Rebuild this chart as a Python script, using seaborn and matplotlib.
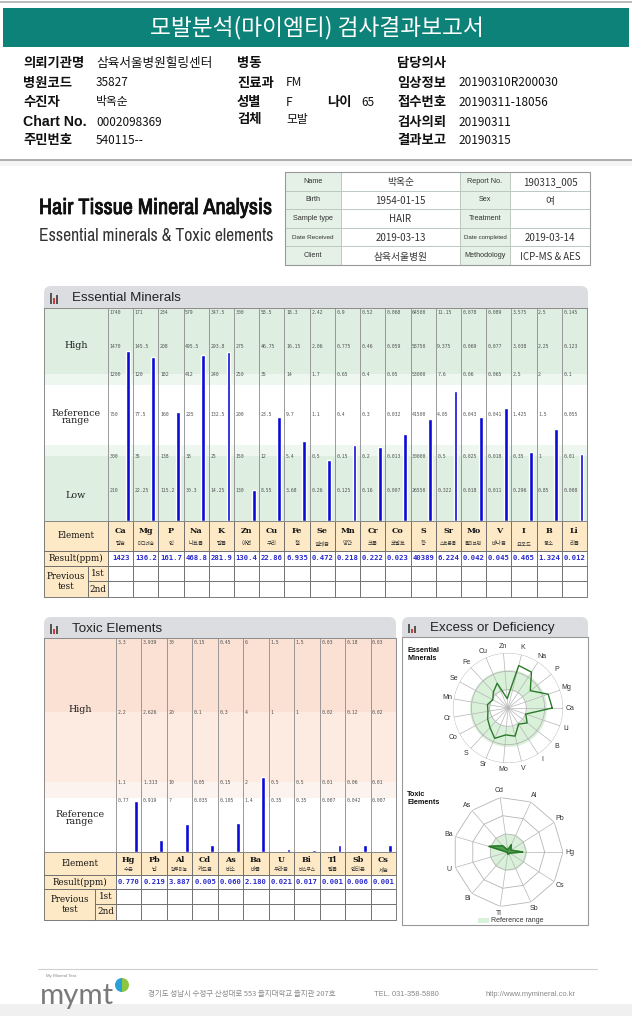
import numpy as np
import matplotlib
matplotlib.use('Agg')
import matplotlib.pyplot as plt
import matplotlib.font_manager as fm
import matplotlib.patheffects as pe
from matplotlib.patches import Rectangle, FancyBboxPatch, Wedge
import seaborn as sns

# ---------------- data ----------------
ess_elements = ['Ca', 'Mg', 'P', 'Na', 'K', 'Zn', 'Cu', 'Fe', 'Se', 'Mn', 'Cr', 'Co', 'S', 'Sr', 'Mo', 'V', 'I', 'B', 'Li']
ess_korean = ['칼슘', '마그네슘', '인', '나트륨', '칼륨', '아연', '구리', '철', '셀레늄', '망간', '크롬', '코발트',
              '황', '스트론튬', '몰리브덴', '바나듐', '요오드', '붕소', '리튬']
ess_result = [1423, 136.2, 161.7, 468.8, 281.9, 130.4, 22.86, 6.935, 0.472, 0.218, 0.222, 0.023,
              40389, 6.224, 0.042, 0.045, 0.465, 1.324, 0.012]
ess_high_top = [1740, 171, 234, 579, 347.5, 300, 58.5, 18.3, 2.42, 0.9, 0.52, 0.068, 64500, 11.15, 0.078, 0.089, 3.575, 2.5, 0.145]
ess_high_mid = [1470, 145.5, 208, 495.5, 293.8, 275, 46.75, 16.15, 2.06, 0.775, 0.46, 0.059, 58750, 9.375, 0.069, 0.077, 3.038, 2.25, 0.123]
ess_ref_top = [1200, 120, 182, 412, 240, 250, 35, 14, 1.7, 0.65, 0.4, 0.05, 53000, 7.6, 0.06, 0.065, 2.5, 2, 0.1]
ess_ref_mid = [750, 77.5, 160, 225, 132.5, 200, 23.5, 9.7, 1.1, 0.4, 0.3, 0.032, 41500, 4.05, 0.043, 0.041, 1.425, 1.5, 0.055]
ess_low_top = [300, 35, 138, 38, 25, 150, 12, 5.4, 0.5, 0.15, 0.2, 0.013, 30000, 0.5, 0.025, 0.018, 0.35, 1, 0.01]
ess_low_bottom = [210, 22.25, 115.2, 30.3, 14.25, 130, 8.55, 3.68, 0.26, 0.125, 0.16, 0.007, 26550, 0.322, 0.018, 0.011, 0.296, 0.85, 0.008]

tox_elements = ['Hg', 'Pb', 'Al', 'Cd', 'As', 'Ba', 'U', 'Bi', 'Tl', 'Sb', 'Cs']
tox_korean = ['수은', '납', '알루미늄', '카드뮴', '비소', '바륨', '우라늄', '비스무스', '탈륨', '안티몬', '세슘']
tox_result = [0.770, 0.219, 3.887, 0.005, 0.060, 2.180, 0.021, 0.017, 0.001, 0.006, 0.001]
tox_high_top = [3.3, 3.939, 30, 0.15, 0.45, 6, 1.5, 1.5, 0.03, 0.18, 0.03]
tox_high_mid = [2.2, 2.626, 20, 0.1, 0.3, 4, 1, 1, 0.02, 0.12, 0.02]
tox_high_low = [1.1, 1.313, 10, 0.05, 0.15, 2, 0.5, 0.5, 0.01, 0.06, 0.01]
tox_ref_top = [0.77, 0.919, 7, 0.035, 0.105, 1.4, 0.35, 0.35, 0.007, 0.042, 0.007]

info_labels_1 = ['의뢰기관명', '병원코드', '수진자', 'Chart No.', '주민번호']
info_values_1 = ['삼육서울병원힐링센터', '35827', '박옥순', '0002098369', '540115--']
info_labels_2 = ['병동', '진료과', '성별', '검체']
info_values_2 = ['', 'FM', 'F', '모발']
info_age = '65'
info_labels_3 = ['담당의사', '임상정보', '접수번호', '검사의뢰', '결과보고']
info_values_3 = ['', '20190310R200030', '20190311-18056', '20190311', '20190315']

card_labels_left = ['Name', 'Birth', 'Sample type', 'Date Received', 'Client']
card_values_left = ['박옥순', '1954-01-15', 'HAIR', '2019-03-13', '삼육서울병원']
card_labels_right = ['Report No.', 'Sex', 'Treatment', 'Date completed', 'Methodology']
card_values_right = ['190313_005', '여', '', '2019-03-14', 'ICP-MS & AES']

# ---------------- setup ----------------
sns.set_theme(style='white')
plt.rcParams['font.family'] = ['Noto Sans CJK KR', 'DejaVu Sans']
names = {f.name for f in fm.fontManager.ttflist}
narrow_found = sorted(n for n in names if 'Narrow' in n or 'Condensed' in n)
if 'Liberation Sans Narrow' in names:
    narrow = 'Liberation Sans Narrow'
else:
    narrow = narrow_found[0] if narrow_found else 'Liberation Sans'

W, H = 632, 1016
fig = plt.figure(figsize=(W / 100, H / 100), dpi=100)
renderer = fig.canvas.get_renderer()
page = fig.add_axes([0, 0, 1, 1])
page.set_xlim(0, W)
page.set_ylim(H, 0)
page.axis('off')

KR = ['Noto Sans CJK KR', 'DejaVu Sans']
SERIF = ['DejaVu Serif', 'Noto Sans CJK KR']
MONO = ['DejaVu Sans Mono']
ARIAL = ['Liberation Sans', 'DejaVu Sans']


def px_axes(x0, y0, x1, y1, **kw):
    return fig.add_axes([x0 / W, 1 - y1 / H, (x1 - x0) / W, (y1 - y0) / H], **kw)


def rect(x0, y0, x1, y1, fc='none', ec='none', lw=0.6, z=1):
    page.add_patch(Rectangle((x0, y0), x1 - x0, y1 - y0, facecolor=fc, edgecolor=ec, lw=lw, zorder=z))


def txt(x, y, s, size=8, ha='left', va='center', color='#111', weight='normal', family=KR, z=5, fit=None):
    t = page.text(x, y, s, fontsize=size, ha=ha, va=va, color=color, fontweight=weight, family=family, zorder=z)
    if fit:
        w = t.get_window_extent(renderer).width
        t.set_fontsize(size * fit / w)
    return t


# ---------------- report header ----------------
page.plot([0, W], [2, 2], color='#b0b0b0', lw=1.2)
rect(3, 8, 629, 47, fc='#0d8279')
txt(317, 28, '모발분석(마이엠티) 검사결과보고서', size=15, ha='center', color='white', fit=333)

rows_y = [63, 83, 102, 122, 140]
for y, lab, val in zip(rows_y, info_labels_1, info_values_1):
    latin = lab.startswith('Chart')
    txt(23, y, lab, size=9.6 if not latin else 10.2, weight='bold',
        family=['Liberation Sans', 'Noto Sans CJK KR'] if latin else KR)
    txt(96, y, val, size=8.5, fit=117 if y == rows_y[0] else None)
for y, lab, val in zip(rows_y[:4], info_labels_2, info_values_2):
    dy = 3 if lab == '검체' else 0
    txt(237, y - dy, lab, size=9.6, weight='bold')
    txt(286, y - dy, val, size=8.5)
txt(327, rows_y[2], '나이', size=9.6, weight='bold')
txt(361, rows_y[2], info_age, size=8.5)
for y, lab, val in zip(rows_y, info_labels_3, info_values_3):
    txt(397, y, lab, size=9.6, weight='bold')
    txt(458, y, val, size=8.5)

page.plot([0, W], [160, 160], color='#a0a0a0', lw=1.2)
rect(0, 161, W, 166, fc='#f4f4f4')

# ---------------- hair tissue title & card ----------------
title = txt(39, 208, 'Hair Tissue Mineral Analysis', size=16, weight='bold', family=[narrow, 'DejaVu Sans'],
            color='#111', fit=234)
title.set_path_effects([pe.withStroke(linewidth=0.6, foreground='#111')])
txt(39, 236, 'Essential minerals & Toxic elements', size=12, family=[narrow, 'DejaVu Sans'],
    color='#333', fit=234)

cx = [285, 341, 460, 510, 590]
cy = np.linspace(172, 265, 6)
for r in range(5):
    for c in range(4):
        fc = '#e5f1e7' if c in (0, 2) else 'white'
        rect(cx[c], cy[r], cx[c + 1], cy[r + 1], fc=fc, ec='#b8c4bc', lw=0.6)
    ym = (cy[r] + cy[r + 1]) / 2
    txt((cx[0] + cx[1]) / 2, ym, card_labels_left[r], size=5.2 if r != 3 else 4.6, ha='center', family=ARIAL, color='#333')
    txt((cx[1] + cx[2]) / 2, ym + 1, card_values_left[r], size=7, ha='center', color='#333')
    txt((cx[2] + cx[3]) / 2, ym, card_labels_right[r], size=5.2 if r != 3 else 4.4, ha='center', family=ARIAL, color='#333')
    txt((cx[3] + cx[4]) / 2, ym + 1, card_values_right[r], size=7, ha='center', color='#333')
rect(cx[0], cy[0], cx[-1], cy[-1], ec='#999', lw=0.8)


# ---------------- panel headers ----------------
def panel_header(x0, y0, x1, y1, title):
    page.add_patch(FancyBboxPatch((x0, y0), x1 - x0, y1 - y0, boxstyle='round,pad=0,rounding_size=7',
                                  facecolor='#dcdde1', edgecolor='none', zorder=1))
    rect(x0, (y0 + y1) / 2, x1, y1, fc='#dcdde1', z=1)
    ix = x0 + 6
    rect(ix, y0 + 7, ix + 1.6, y1 - 4, fc='#555', z=2)
    rect(ix + 3, y0 + 12, ix + 4.6, y1 - 4, fc='#d23a3a', z=2)
    rect(ix + 6, y0 + 9, ix + 7.6, y1 - 4, fc='#555', z=2)
    txt(x0 + 28, (y0 + y1) / 2 + 1, title, size=9.6, family=ARIAL, color='#222')


panel_header(44, 286, 588, 308, 'Essential Minerals')
panel_header(44, 617, 396, 638, 'Toxic Elements')
panel_header(402, 617, 588, 637, 'Excess or Deficiency')
rect(402, 637, 588, 925, fc='white', ec='#999', lw=0.8)


# ---------------- bar chart helper ----------------
def range_chart(box, label_w, elements, results, label_rows, label_levels, bands, side_labels):
    x0, y0, x1, y1 = box
    n = len(elements)
    cw = (x1 - x0 - label_w) / n
    off = 0.78
    ax = px_axes(x0, y0, x1, y1)
    thr = np.array(label_rows, dtype=float)[::-1]   # ascending per column
    lev = np.array(label_levels)[::-1]
    levels = [np.interp(v, np.r_[0, thr[:, i]], np.r_[0, lev]) for i, v in enumerate(results)]
    sns.barplot(x=elements, y=levels, ax=ax, color='#0a0ad6', saturation=1, width=0.15, zorder=3)
    left = -off - label_w / cw
    ax.set_xlim(left, n - off)
    ax.set_ylim(0, y1 - y0)
    for lo, hi, c in bands:
        ax.axhspan(lo, hi, color=c, lw=0, zorder=0)
    for i in range(n + 1):
        ax.axvline(i - off, color='#8a8a8a', lw=0.6, zorder=1)
    for i in range(n):
        for vals, lv in zip(label_rows, label_levels):
            ax.text(i - off + 0.06, lv, f'{vals[i]:g}', fontsize=3.5, va='center', ha='left',
                    family=MONO, color='#555', zorder=2)
    for s, lv in side_labels:
        ax.text(left + label_w / cw / 2, lv, s, fontsize=6.8, ha='center', va='center',
                family=SERIF, color='#222', linespacing=0.85)
    ax.set_xticks([])
    ax.set_yticks([])
    ax.set_xlabel('')
    ax.set_ylabel('')
    for sp in ax.spines.values():
        sp.set_color('#8a8a8a')
        sp.set_linewidth(0.7)
    return cw


def result_table(x0, label_w, sub_x, rows, elements, korean, texts, cw):
    yt, yk, yr, y1, y2 = rows
    beige = '#fde9c6'
    ec = '#666'
    rect(x0, yt, x0 + label_w, yk, fc=beige, ec=ec)
    txt(x0 + label_w / 2, (yt + yk) / 2, 'Element', size=6.3, ha='center', family=SERIF)
    rect(x0, yk, x0 + label_w, yr, fc=beige, ec=ec)
    txt(x0 + label_w / 2, (yk + yr) / 2, 'Result(ppm)', size=6.3, ha='center', family=SERIF)
    rect(x0, yr, sub_x, y2, fc=beige, ec=ec)
    txt((x0 + sub_x) / 2, (yr + y2) / 2, 'Previous\ntest', size=6.3, ha='center', family=SERIF)
    rect(sub_x, yr, x0 + label_w, y1, fc=beige, ec=ec)
    rect(sub_x, y1, x0 + label_w, y2, fc=beige, ec=ec)
    txt((sub_x + x0 + label_w) / 2, (yr + y1) / 2, '1st', size=6.3, ha='center', family=SERIF)
    txt((sub_x + x0 + label_w) / 2, (y1 + y2) / 2, '2nd', size=6.3, ha='center', family=SERIF)
    for i, (el, kr, tv) in enumerate(zip(elements, korean, texts)):
        a = x0 + label_w + i * cw
        b = a + cw
        rect(a, yt, b, yk, fc=beige, ec=ec)
        txt((a + b) / 2, yt + (yk - yt) * 0.33, el, size=5.8, ha='center', family=SERIF, weight='bold')
        txt((a + b) / 2, yt + (yk - yt) * 0.75, kr, size=3.9 if len(kr) < 4 else 3.3, ha='center', color='#333')
        rect(a, yk, b, yr, fc='white', ec=ec)
        txt((a + b) / 2, (yk + yr) / 2, tv, size=5.2, ha='center', family=MONO, color='#2a2ad0', weight='bold')
        rect(a, yr, b, y1, fc='white', ec=ec)
        rect(a, y1, b, y2, fc='white', ec=ec)


# ---------------- essential minerals ----------------
green, pale = '#deefe2', '#edf6ef'
ess_rows = [ess_high_top, ess_high_mid, ess_ref_top, ess_ref_mid, ess_low_top, ess_low_bottom]
cw_e = range_chart((44, 308, 587, 521), 64, ess_elements, ess_result, ess_rows,
                   [208, 175, 146, 106, 65, 30],
                   [(0, 65, green), (65, 76, pale), (76, 136, 'white'), (136, 147, pale), (147, 213, green)],
                   [('High', 176), ('Reference\nrange', 104), ('Low', 25)])
result_table(44, 64, 88, [521, 551, 566, 581, 597], ess_elements, ess_korean,
             [f'{v:g}' for v in ess_result], cw_e)

# ---------------- toxic elements ----------------
tox_rows = [tox_high_top, tox_high_mid, tox_high_low, tox_ref_top]
cw_t = range_chart((44, 638, 396, 852), 72, tox_elements, tox_result, tox_rows,
                   [209, 140, 69, 51],
                   [(0, 54, 'white'), (54, 70, '#fdf3ee'), (70, 140, '#fdeae1'), (140, 214, '#fbe1d4')],
                   [('High', 142), ('Reference\nrange', 34)])
result_table(44, 72, 95, [852, 875, 889, 904, 920], tox_elements, tox_korean,
             [f'{v:.3f}' for v in tox_result], cw_t)


# ---------------- radar charts ----------------
def radar(center, elements, level_vals, grid_poly, band, fill_poly):
    cxp, cyp = center
    R = 55
    ax = px_axes(cxp - R, cyp - R, cxp + R, cyp + R, projection='polar')
    ax.set_facecolor('none')
    n = len(elements)
    th = np.arange(n) * 2 * np.pi / n
    dense = np.linspace(0, 2 * np.pi, 240)
    ax.fill_between(dense, band[0], band[1], color='#d9f0d9', lw=0, zorder=0)
    for r in (1, 2, 3):
        if grid_poly:
            ax.plot(np.r_[th, th[0]], np.full(n + 1, r), color='#b5b5b5', lw=0.6, zorder=1)
        else:
            ax.plot(dense, np.full(dense.size, r), color='#b5b5b5', lw=0.6, zorder=1)
    for t in th:
        ax.plot([t, t], [0, 3], color='#b5b5b5', lw=0.5, zorder=1)
    lv = np.r_[level_vals, level_vals[0]]
    tt = np.r_[th, th[0]]
    if fill_poly:
        ax.fill(tt, lv, color='#3c8f3c', alpha=0.85, zorder=3)
    ax.plot(tt, lv, color='#2a7a2a', lw=1.0, zorder=4)
    for t, name in zip(th, elements):
        ax.text(t, 3.38, name, fontsize=5, ha='center', va='center', family=ARIAL, color='#333', clip_on=False)
    ax.set_ylim(0, 3)
    ax.set_xticks([])
    ax.set_yticks([])
    ax.grid(False)
    ax.spines['polar'].set_visible(False)


ess_radar = [np.interp(v, [0, ess_low_bottom[i], ess_low_top[i], ess_ref_mid[i], ess_ref_top[i],
                           ess_high_mid[i], ess_high_top[i]], [0, 0.5, 1, 1.5, 2, 2.5, 3])
             for i, v in enumerate(ess_result)]
tox_radar = [np.interp(v, [0, tox_ref_top[i], tox_high_low[i], tox_high_mid[i], tox_high_top[i]],
                       [0, 0.8, 1, 2, 3]) for i, v in enumerate(tox_result)]

radar((508, 708), ess_elements, ess_radar, False, (1, 2.1), False)
radar((508, 852), tox_elements, tox_radar, True, (0, 1), True)

txt(407, 655, 'Essential\nMinerals', size=5.2, weight='bold', family=ARIAL, color='#111')
txt(407, 798, 'Toxic\nElements', size=5.2, weight='bold', family=ARIAL, color='#111')
rect(478, 918, 489, 923, fc='#d9f0d9', z=2)
txt(491, 921, 'Reference range', size=5, family=ARIAL, color='#333')

# ---------------- footer ----------------
page.plot([38, 597], [969, 969], color='#cfcfcf', lw=0.8)
txt(46, 976, 'My Mineral Test', size=3.2, family=ARIAL, color='#888')
txt(40, 996, 'mymt', size=20, family=['Lato', 'DejaVu Sans'], color='#7a7a7a', fit=74)
page.add_patch(Wedge((122, 985), 7, 90, 270, facecolor='#2aa0d8', edgecolor='none', zorder=3))
page.add_patch(Wedge((122, 985), 7, -90, 90, facecolor='#8cc63e', edgecolor='none', zorder=3))
txt(148, 994, '경기도 성남시 수정구 산성대로 553 을지대학교 을지관 207호', size=5.4, color='#888')
txt(374, 994, 'TEL. 031-358-5880', size=5.4, family=ARIAL, color='#888')
txt(485, 994, 'http://www.mymineral.co.kr', size=5.4, family=ARIAL, color='#888')
rect(0, 1004, W, H, fc='#f0f0f0')

fig.savefig('out.png', dpi=100)
